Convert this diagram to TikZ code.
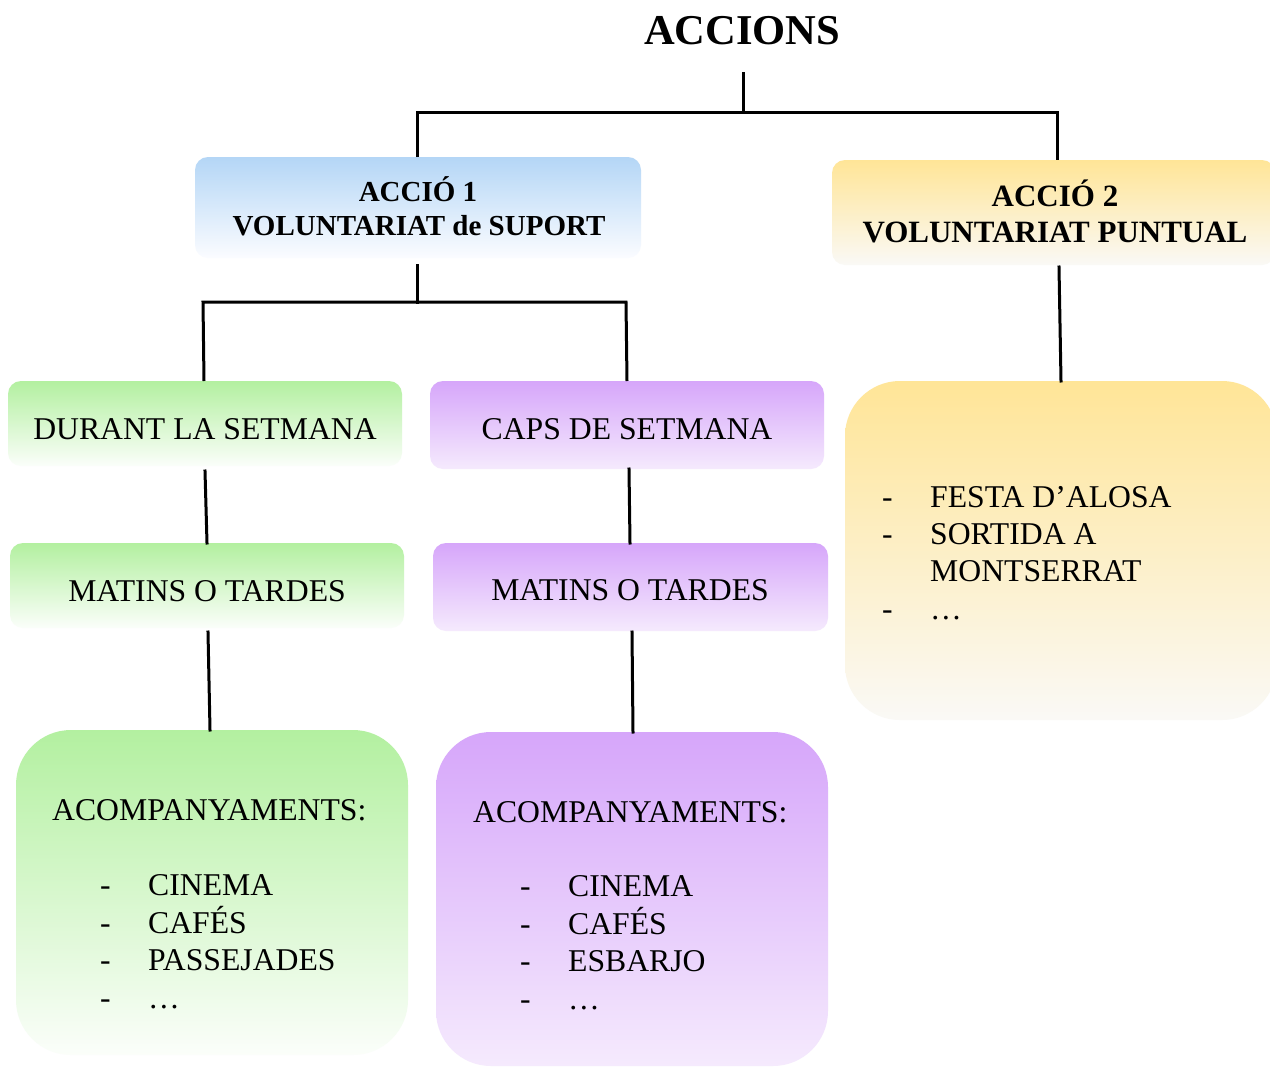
\documentclass[tikz,border=0pt]{standalone}
\usepackage{fontspec}
\setmainfont{Liberation Serif}
\definecolor{gtop}{HTML}{B3F0A0}
\definecolor{gbot}{HTML}{FBFEFA}
\definecolor{ptop}{HTML}{D6A6FA}
\definecolor{pbot}{HTML}{F5EAFD}
\definecolor{btop}{HTML}{B4D6F6}
\definecolor{bbot}{HTML}{FBFCFF}
\definecolor{ytop}{HTML}{FFE597}
\definecolor{ybot}{HTML}{FAF9F6}
\begin{document}
\begin{tikzpicture}[x=1pt,y=-1pt,
  conn/.style={line width=3pt, line cap=rect},
  sbox/.style={rounded corners=13pt, inner sep=0pt},
  bbox/.style={rounded corners=55pt, inner sep=0pt},
  greenbox/.style={top color=gtop, bottom color=gbot},
  purplebox/.style={top color=ptop, bottom color=pbot},
  bluebox/.style={top color=btop, bottom color=bbot},
  yellowbox/.style={top color=ytop, bottom color=ybot},
  reg/.style={font=\fontsize{31.7}{37}\selectfont, inner sep=0pt, anchor=base},
  regw/.style={font=\fontsize{31.7}{37}\selectfont, inner sep=0pt, anchor=base west},
  boldtxt/.style={font=\bfseries\fontsize{29}{34}\selectfont, inner sep=0pt, anchor=base},
]
\useasboundingbox (0,0) rectangle (1270,1068);
\fill[white] (0,0) rectangle (1270,1068);

% boxes
\node[sbox, bluebox, minimum width=446pt, minimum height=101pt] (a1) at (418,207.5) {};
\node[sbox, yellowbox, minimum width=443pt, minimum height=105pt] (a2) at (1053.5,212.5) {};
\node[sbox, greenbox, minimum width=394pt, minimum height=85pt] (dur) at (205,423.5) {};
\node[sbox, purplebox, minimum width=394pt, minimum height=88pt] (caps) at (627,425) {};
\node[sbox, greenbox, minimum width=394pt, minimum height=85pt] (mg) at (207,585.5) {};
\node[sbox, purplebox, minimum width=395pt, minimum height=88pt] (mp) at (630.5,587) {};
\node[bbox, greenbox, minimum width=392pt, minimum height=325pt] (ag) at (212,892.5) {};
\node[bbox, purplebox, minimum width=392pt, minimum height=334pt] (ap) at (632,899) {};
\node[bbox, yellowbox, minimum width=432pt, minimum height=339pt] (pl) at (1061,550.5) {};

% texts
\node[font=\bfseries\fontsize{42.5}{48}\selectfont, inner sep=0pt, anchor=base] (title) at (742,44) {ACCIONS};
\node[boldtxt] (a1t1) at (418,201) {ACCIÓ 1};
\node[boldtxt] (a1t2) at (419,235) {VOLUNTARIAT de SUPORT};
\node[boldtxt, font=\bfseries\fontsize{31}{36}\selectfont] (a2t1) at (1055,206) {ACCIÓ 2};
\node[boldtxt, font=\bfseries\fontsize{31}{36}\selectfont] (a2t2) at (1055,242) {VOLUNTARIAT PUNTUAL};
\node[reg] (durt) at (205,439) {DURANT LA SETMANA};
\node[reg] (capst) at (627,439) {CAPS DE SETMANA};
\node[reg] (mgt) at (207,601) {MATINS O TARDES};
\node[reg] (mpt) at (630,600) {MATINS O TARDES};

\node[regw] (agh) at (52,820) {ACOMPANYAMENTS:};
\node[regw] (agl) at (100,895) {\begin{tabular}[t]{@{}l@{}l@{}}
\makebox[48pt][l]{-} & CINEMA\\
- & CAFÉS\\
- & PASSEJADES\\[1pt]
- & …
\end{tabular}};
\node[regw] (aph) at (473,822) {ACOMPANYAMENTS:};
\node[regw] (apl) at (520,896) {\begin{tabular}[t]{@{}l@{}l@{}}
\makebox[48pt][l]{-} & CINEMA\\
- & CAFÉS\\
- & ESBARJO\\[1pt]
- & …
\end{tabular}};
\node[regw] (pll) at (882,507) {\begin{tabular}[t]{@{}l@{}l@{}}
\makebox[48pt][l]{-} & FESTA D’ALOSA\\
- & SORTIDA A\\
 & MONTSERRAT\\[1pt]
- & …
\end{tabular}};

% connector points
\coordinate (t0) at (743,73);
\coordinate (bar) at (743,112);
\coordinate (barL) at (417,112);
\coordinate (barR) at (1057,112);
\coordinate (a1in) at (417,157);
\coordinate (a2in) at (1057,160);
\coordinate (a1out) at (417,265);
\coordinate (bar2) at (417,302);
\coordinate (bar2L) at (203,302);
\coordinate (bar2R) at (626,302);
\coordinate (durin) at (204,381);
\coordinate (capsin) at (627,381);
\coordinate (durout) at (205,471);
\coordinate (mgin) at (207,543);
\coordinate (capsout) at (629,469);
\coordinate (mpin) at (630,543);
\coordinate (mgout) at (208,632);
\coordinate (agin) at (210,730);
\coordinate (mpout) at (632,632);
\coordinate (apin) at (633,732);
\coordinate (a2out) at (1059,267);
\coordinate (plin) at (1061,381);

\draw[conn] (t0) -- (bar);
\draw[conn, line cap=butt] (a1in) -- (barL) -- (barR) -- (a2in);
\draw[conn] (a1out) -- (bar2);
\draw[conn, line cap=butt] (durin) -- (bar2L) -- (bar2R) -- (capsin);
\draw[conn] (durout) -- (mgin);
\draw[conn] (capsout) -- (mpin);
\draw[conn] (mgout) -- (agin);
\draw[conn] (mpout) -- (apin);
\draw[conn] (a2out) -- (plin);
\end{tikzpicture}
\end{document}
